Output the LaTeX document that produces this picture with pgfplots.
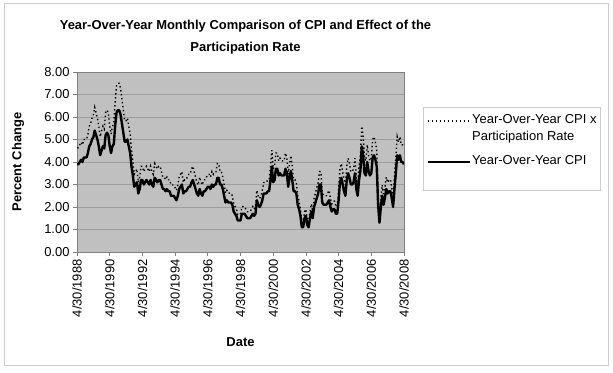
\documentclass[border=0pt]{standalone}
\usepackage{pgfplots}
\pgfplotsset{compat=1.18}
\usepackage{pgfplotstable}
\usepackage{fontspec}
\setmainfont{Liberation Sans}
\definecolor{plotbg}{RGB}{192,192,192}
\definecolor{gridc}{RGB}{158,158,158}
\definecolor{axc}{RGB}{128,128,128}
\definecolor{framec}{RGB}{205,205,205}
\pgfplotstableread[row sep=\\]{
cpi adj\\
3.9 4.64\\ 3.9 4.64\\ 4.0 4.76\\ 4.1 4.88\\ 4.0 4.76\\ 4.2 5.00\\ 4.2 5.00\\ 4.2 5.00\\ 4.4 5.24\\
4.7 5.59\\ 4.8 5.71\\ 5.0 5.95\\ 5.1 6.07\\ 5.4 6.43\\ 5.2 6.19\\ 5.0 5.95\\ 4.7 5.59\\ 4.3 5.12\\ 4.5 5.36\\ 4.7 5.59\\ 4.6 5.47\\
5.2 6.19\\ 5.3 6.31\\ 5.2 6.19\\ 4.7 5.59\\ 4.4 5.24\\ 4.7 5.59\\ 4.8 5.71\\ 5.6 6.66\\ 6.2 7.38\\ 6.3 7.50\\ 6.3 7.50\\ 6.1 7.26\\
5.7 6.78\\ 5.3 6.31\\ 4.9 5.83\\ 4.9 5.83\\ 5.0 5.95\\ 4.7 5.59\\ 4.4 5.24\\ 3.8 4.52\\ 3.4 4.05\\ 2.9 3.45\\ 3.0 3.57\\ 3.1 3.69\\
2.6 3.09\\ 2.8 3.33\\ 3.2 3.81\\ 3.2 3.81\\ 3.0 3.57\\ 3.1 3.69\\ 3.2 3.81\\ 3.1 3.69\\ 3.0 3.57\\ 3.2 3.81\\ 3.0 3.57\\ 2.9 3.45\\
3.3 3.93\\ 3.2 3.81\\ 3.1 3.69\\ 3.2 3.81\\ 3.2 3.81\\ 3.0 3.57\\ 2.8 3.33\\ 2.8 3.33\\ 2.7 3.21\\ 2.8 3.33\\ 2.7 3.21\\ 2.7 3.21\\
2.5 2.98\\ 2.5 2.98\\ 2.5 2.98\\ 2.4 2.86\\ 2.3 2.74\\ 2.5 2.98\\ 2.8 3.33\\ 2.9 3.45\\ 3.0 3.57\\ 2.6 3.09\\ 2.7 3.21\\ 2.7 3.21\\
2.8 3.33\\ 2.9 3.45\\ 2.9 3.45\\ 3.1 3.69\\ 3.2 3.81\\ 3.0 3.57\\ 2.8 3.33\\ 2.6 3.09\\ 2.5 2.98\\ 2.8 3.33\\ 2.6 3.09\\ 2.5 2.98\\
2.7 3.21\\ 2.7 3.21\\ 2.8 3.33\\ 2.9 3.45\\ 2.9 3.45\\ 2.8 3.33\\ 3.0 3.57\\ 2.9 3.45\\ 3.0 3.57\\ 3.0 3.57\\ 3.3 3.93\\ 3.3 3.93\\
3.0 3.57\\ 3.0 3.57\\ 2.8 3.33\\ 2.5 2.98\\ 2.2 2.62\\ 2.3 2.74\\ 2.2 2.62\\ 2.2 2.62\\ 2.2 2.62\\ 2.1 2.50\\ 1.8 2.14\\ 1.7 2.02\\
1.6 1.90\\ 1.4 1.67\\ 1.4 1.67\\ 1.4 1.67\\ 1.7 2.02\\ 1.7 2.02\\ 1.7 2.02\\ 1.6 1.90\\ 1.5 1.79\\ 1.5 1.79\\ 1.5 1.79\\ 1.6 1.90\\
1.7 2.02\\ 1.6 1.90\\ 1.7 2.02\\ 2.3 2.74\\ 2.1 2.50\\ 2.0 2.38\\ 2.1 2.50\\ 2.3 2.74\\ 2.6 3.09\\ 2.6 3.09\\ 2.6 3.09\\ 2.7 3.21\\
2.7 3.21\\ 3.2 3.81\\ 3.8 4.52\\ 3.1 3.69\\ 3.2 3.81\\ 3.7 4.40\\ 3.7 4.40\\ 3.4 4.05\\ 3.5 4.17\\ 3.4 4.05\\ 3.4 4.05\\ 3.4 4.05\\
3.7 4.40\\ 3.5 4.17\\ 2.9 3.45\\ 3.3 3.93\\ 3.6 4.28\\ 3.2 3.81\\ 2.7 3.21\\ 2.7 3.21\\ 2.6 3.09\\ 2.1 2.50\\ 1.9 2.26\\ 1.6 1.90\\
1.1 1.31\\ 1.1 1.31\\ 1.5 1.79\\ 1.6 1.90\\ 1.2 1.43\\ 1.1 1.31\\ 1.5 1.79\\ 1.8 2.14\\ 1.5 1.79\\ 2.0 2.38\\ 2.2 2.62\\ 2.4 2.86\\
2.6 3.09\\ 3.0 3.57\\ 3.0 3.57\\ 2.2 2.62\\ 2.1 2.50\\ 2.1 2.50\\ 2.1 2.50\\ 2.2 2.62\\ 2.3 2.74\\ 2.0 2.38\\ 1.8 2.14\\ 1.9 2.26\\
1.9 2.26\\ 1.7 2.02\\ 1.7 2.02\\ 2.3 2.74\\ 3.1 3.69\\ 3.3 3.93\\ 3.0 3.57\\ 2.7 3.21\\ 2.5 2.98\\ 3.2 3.81\\ 3.5 4.17\\ 3.3 3.93\\
3.0 3.57\\ 3.0 3.57\\ 3.1 3.69\\ 3.5 4.17\\ 2.8 3.33\\ 2.5 2.98\\ 3.2 3.81\\ 3.6 4.28\\ 4.7 5.59\\ 4.3 5.12\\ 3.5 4.17\\ 3.4 4.05\\
4.0 4.76\\ 3.6 4.28\\ 3.4 4.05\\ 3.5 4.17\\ 4.2 5.00\\ 4.3 5.12\\ 4.1 4.88\\ 3.8 4.52\\ 2.1 2.50\\ 1.3 1.55\\ 2.0 2.38\\ 2.5 2.98\\
2.1 2.50\\ 2.4 2.86\\ 2.8 3.33\\ 2.6 3.09\\ 2.7 3.21\\ 2.7 3.21\\ 2.4 2.86\\ 2.0 2.38\\ 2.8 3.33\\ 3.5 4.17\\ 4.3 5.12\\ 4.1 4.88\\
4.3 5.12\\ 4.0 4.76\\ 4.0 4.76\\ 3.9 4.64\\
}\cpidata
\begin{document}
\begin{tikzpicture}
\useasboundingbox (0bp,0bp) rectangle (613bp,373bp);
\fill[white] (0bp,0bp) rectangle (613bp,373bp);
\draw[framec, line width=1bp] (4bp,7bp) rectangle (608bp,369bp);
\begin{axis}[
  at={(77bp,121bp)}, anchor=south west,
  scale only axis, width=327bp, height=180bp,
  xmin=0, xmax=240, ymin=0, ymax=8,
  xtick={0,24,...,240},
  xticklabels={4/30/1988,4/30/1990,4/30/1992,4/30/1994,4/30/1996,4/30/1998,4/30/2000,4/30/2002,4/30/2004,4/30/2006,4/30/2008},
  ytick={0,1,...,8},
  axis background/.style={fill=plotbg},
  ymajorgrids, major grid style={gridc, line width=0.8bp},
  axis line style={axc, line width=0.8bp},
  tick align=outside, xtick pos=bottom, ytick pos=left,
  major tick length=4bp, tick style={axc, line width=0.8bp},
  every tick label/.append style={font=\fontsize{13}{15}\selectfont},
  xticklabel style={rotate=90, anchor=east},
  yticklabel style={/pgf/number format/.cd, fixed, fixed zerofill, precision=2},
  /pgf/number format/assume math mode=true,
  xlabel={Date}, ylabel={Percent Change},
  label style={font=\bfseries\fontsize{13}{15}\selectfont},
  xlabel style={at={(axis description cs:0.5,-0.5)}, anchor=center},
  ylabel style={at={(axis description cs:-0.18,0.5)}, anchor=center},
]
\addplot[black, line width=1.4bp, dash pattern=on 1.4bp off 2.6bp] table[x expr=\coordindex, y=adj]{\cpidata};
\addplot[black, line width=2.4bp, line join=round] table[x expr=\coordindex, y=cpi]{\cpidata};
\end{axis}
\node[font=\bfseries\fontsize{13}{15}\selectfont] at (245.5bp,347bp) {Year-Over-Year Monthly Comparison of CPI and Effect of the};
\node[font=\bfseries\fontsize{13}{15}\selectfont] at (245.5bp,325bp) {Participation Rate};
\draw[framec, fill=white, line width=1bp] (423bp,182bp) rectangle (600bp,265bp);
\draw[black, line width=1.4bp, dash pattern=on 1.4bp off 2.6bp] (428bp,252bp) -- (470bp,252bp);
\draw[black, line width=2.4bp] (428bp,211bp) -- (470bp,211bp);
\node[anchor=mid west, inner sep=0pt, font=\fontsize{13}{15}\selectfont] at (472bp,252bp) {Year-Over-Year CPI x};
\node[anchor=mid west, inner sep=0pt, font=\fontsize{13}{15}\selectfont] at (472bp,235bp) {Participation Rate};
\node[anchor=mid west, inner sep=0pt, font=\fontsize{13}{15}\selectfont] at (472bp,211bp) {Year-Over-Year CPI};
\end{tikzpicture}
\end{document}
